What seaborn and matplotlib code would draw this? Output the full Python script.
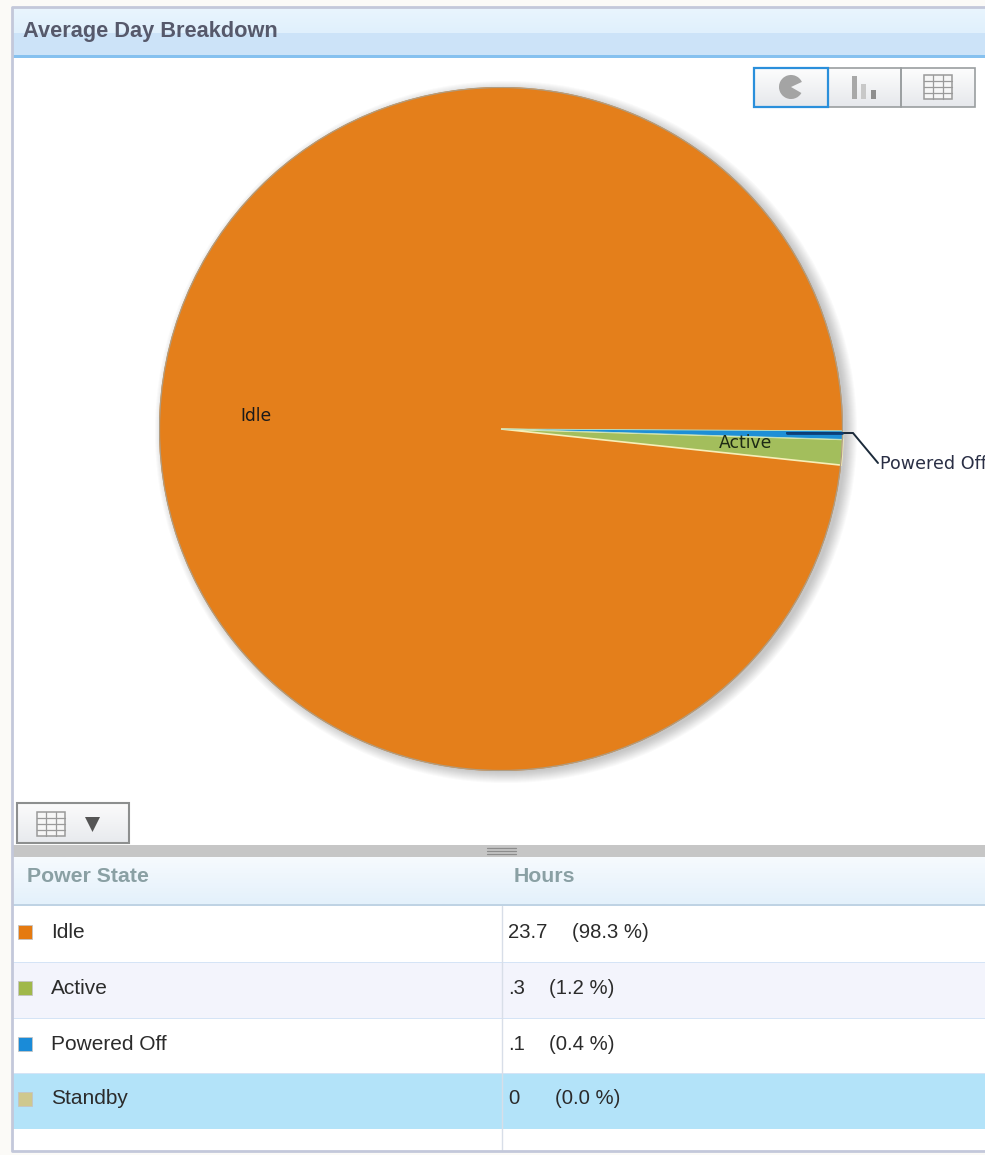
import numpy as np
import matplotlib
matplotlib.use("Agg")
import matplotlib.pyplot as plt
from matplotlib.patches import Rectangle, Circle, Polygon, Wedge
import seaborn as sns

states = ["Idle", "Active", "Powered Off", "Standby"]
hours = ["23.7", ".3", ".1", "0"]
percents = [98.3, 1.2, 0.4, 0.0]
colors = ["#E47F1B", "#A3BE5C", "#1E8FD6", "#CFC88E"]
swatch_colors = ["#E57A10", "#A0B84A", "#1A8BD8", "#CFC88E"]
title = "Average Day Breakdown"
columns = ["Power State", "Hours"]

W, H = 985, 1155
sns.set_theme(style="white")
plt.rcParams["font.family"] = ["Liberation Sans", "DejaVu Sans"]
palette = sns.color_palette(colors)

fig = plt.figure(figsize=(W / 100, H / 100), dpi=100, facecolor="white")
bg = fig.add_axes([0, 0, 1, 1], zorder=0)
bg.set_xlim(0, W); bg.set_ylim(H, 0); bg.axis("off")


def rect(x0, y0, x1, y1, **kw):
    kw.setdefault("lw", 0)
    bg.add_patch(Rectangle((x0, y0), x1 - x0, y1 - y0, **kw))


def grad(x0, y0, x1, y1, c0, c1, z=2):
    c0 = np.array(matplotlib.colors.to_rgb(c0)); c1 = np.array(matplotlib.colors.to_rgb(c1))
    t = np.linspace(0, 1, 32)[:, None, None]
    img = c0[None, None, :] * (1 - t) + c1[None, None, :] * t
    bg.imshow(img, extent=(x0, x1, y1, y0), aspect="auto", zorder=z, interpolation="bilinear")


def grid_icon(x0, y0, x1, y1, c="#9A9A9A"):
    rect(x0, y0, x1, y1, fc="#F6F6F6", ec=c, lw=1.1, zorder=5)
    for f in (1 / 3, 2 / 3):
        bg.plot([x0 + (x1 - x0) * f] * 2, [y0, y1], color=c, lw=0.9, zorder=6)
    for f in (.25, .5, .75):
        bg.plot([x0, x1], [y0 + (y1 - y0) * f] * 2, color=c, lw=0.9, zorder=6)


# panel frame
rect(0, 0, W, H, fc="#FBFAF7", zorder=0)
rect(12, 8, W, 1151, fc="white", zorder=1)
bg.plot([W, 12, 12, W], [7, 7, 1151, 1151], color="#C3C8DA", lw=2, zorder=9)

# title bar
grad(12, 8, W, 33, "#E9F5FE", "#E0F0FC")
rect(12, 33, W, 55, fc="#CCE3F8", zorder=2)
rect(12, 55, W, 58, fc="#86C1EF", zorder=3)
bg.text(23, 31, title, fontsize=15.7, fontweight="bold", color="#56596B", va="center", zorder=6)

# chart-type buttons
for x0, x1 in [(754, 828), (828, 901), (901, 975)]:
    grad(x0, 68, x1, 107, "#FDFDFD", "#E6E8EC", z=3)
    rect(x0, 68, x1, 107, fc="none", ec="#9A9EA0", lw=1.2, zorder=4)
rect(754, 68, 828, 107, fc="none", ec="#2A8FDB", lw=1.6, zorder=5)
bg.add_patch(Wedge((791, 87), 12, 30, 335, fc="#A4A4A4", lw=0, zorder=6))
for x, top, c in [(852, 76, "#A8A8A8"), (861, 84, "#C8C8C8"), (871, 90, "#8E8E8E")]:
    rect(x, top, x + 5, 99, fc=c, zorder=6)
grid_icon(924, 75, 952, 99)

# soft pie shadow
cx, cy, r = 501, 429, 342
for i in range(12):
    bg.add_patch(Circle((cx + 5, cy + 3), r + 9 - i, fc="#4A4A4A", alpha=0.028, lw=0, zorder=3))

# pie
pie_ax = fig.add_axes([(cx - r) / W, 1 - (cy + r) / H, 2 * r / W, 2 * r / H], zorder=1)
pie_ax.patch.set_alpha(0)
wedges, _ = pie_ax.pie(percents, colors=palette, startangle=-0.3, counterclock=True,
                       radius=1.0, wedgeprops={"linewidth": 0})
for w in wedges[1:3]:
    w.set_edgecolor("#F6EFB8"); w.set_linewidth(1.2)
wedges[2].set_edgecolor("#BFE3C0"); wedges[2].set_linewidth(0.6)
pie_ax.set_xlim(-1, 1); pie_ax.set_ylim(-1, 1)
pie_ax.add_patch(Circle((0, 0), 0.9985, fc="none", ec="#B09C80", lw=0.9))

# overlay
ov = fig.add_axes([0, 0, 1, 1], zorder=2)
ov.set_xlim(0, W); ov.set_ylim(H, 0); ov.axis("off"); ov.patch.set_alpha(0)
ov.plot([787, 853, 878], [433, 433, 463], color="#1B2A3A", lw=1.4, solid_joinstyle="miter")
ov.plot([787, 842], [433, 433], color="#0B3F78", lw=2)
ov.text(256, 416, states[0], fontsize=12.3, family="DejaVu Sans", color="#1A1A1A", ha="center", va="center")
ov.text(745, 443, states[1], fontsize=12.3, family="DejaVu Sans", color="#1E2A14", ha="center", va="center")
ov.text(880, 464, states[2], fontsize=12.6, family="DejaVu Sans", color="#2A2F45", ha="left", va="center", clip_on=True)

# table toggle button
grad(17, 803, 129, 843, "#FBFBFB", "#E8EAEE", z=3)
rect(17, 803, 129, 843, fc="none", ec="#8D8F8F", lw=1.5, zorder=4)
grid_icon(37, 812, 65, 836)
bg.add_patch(Polygon([[85, 817], [100, 817], [92.5, 832]], fc="#555555", lw=0, zorder=6))

# splitter
rect(13, 845, W, 857, fc="#C6C6C6", zorder=2)
for y in (848, 851, 854):
    bg.plot([487, 516], [y, y], color="#8C8C8C", lw=0.9, zorder=3)

# table header
grad(13, 857, W, 904, "#F6FAFE", "#E4F1FB")
rect(13, 904, W, 906, fc="#BFD3E4", zorder=3)
bg.text(27, 877, columns[0], fontsize=15.3, fontweight="bold", color="#8AA0A4", va="center", zorder=6)
bg.text(514, 877, columns[1], fontsize=15.3, fontweight="bold", color="#8AA0A4", va="center", zorder=6)

# table rows
row_tops = [906, 962, 1018, 1073]
row_fill = ["white", "#F3F4FC", "white", "#B3E3F9"]
pct_x = [572, 549, 549, 555]
for i in range(4):
    top = row_tops[i]
    rect(13, top, W, top + 56, fc=row_fill[i], zorder=2)
    if i:
        rect(13, top - 0.5, W, top + 0.5, fc="#D5E4F6", zorder=3)
    yc = top + 26
    rect(18, yc - 7, 32, yc + 6.5, fc=swatch_colors[i], ec="#C4C4C4", lw=0.6, zorder=4)
    bg.text(51, yc, states[i], fontsize=15, color="#2B2B2B", va="center", zorder=6)
    bg.text(508, yc, hours[i], fontsize=14.6, color="#2B2B2B", va="center", zorder=6)
    bg.text(pct_x[i], yc, f"({percents[i]:.1f} %)", fontsize=14.6, color="#2B2B2B", va="center", zorder=6)
bg.plot([502, 502], [906, 1150], color="#D8DEE8", lw=1, zorder=5)
bg.set_xlim(0, W); bg.set_ylim(H, 0)

fig.savefig("out.png", dpi=100)
